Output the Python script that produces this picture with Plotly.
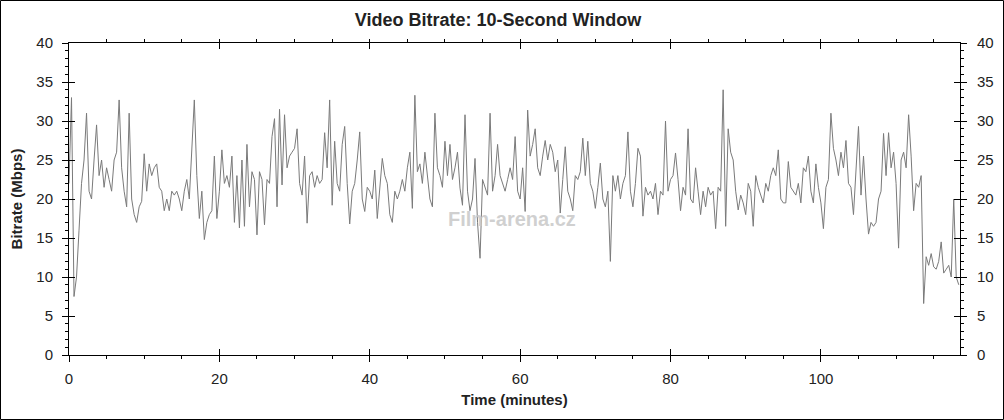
import plotly.graph_objects as go

seg_00_14 = [22, 33, 7.5, 10, 16, 22, 25, 31, 21, 20, 25, 29.5, 23, 25, 21.5, 24, 22.5, 21, 25, 26,
             32.7, 24, 21, 19, 31, 20, 18, 17, 19, 19.7, 25.8, 21, 24.5, 23, 24, 24.5, 21.5, 21, 18.5, 20,
             18.5, 21, 20.5]
seg_14_29 = [21, 20, 18.5, 21, 22.5, 20, 27, 32.7, 23, 17.5, 21, 14.8, 17, 18, 18.5, 25.5, 17.5, 21, 26.3, 22,
             23, 21.5, 25.5, 17, 23, 16.3, 25, 16.5, 27, 19, 23.5, 22.5, 15.4, 23.5, 22.5, 16.7, 22.5, 22, 28, 30.3,
             19, 31.5, 21.8, 30.8]
seg_29_43 = [24, 25.5, 26, 26.5, 29, 22, 20.5, 25.5, 16.9, 23, 23.5, 21.5, 23, 22, 22.5, 28.5, 24, 32.7, 19.2, 27.4,
             22, 21, 27, 29.3, 22, 16.8, 21, 22, 25, 28.6, 20, 18.4, 21.5, 21, 20, 23.7, 17.5, 21, 25.2, 23,
             22, 18, 17, 21]
seg_44_58 = [20, 21, 22.5, 21, 24, 26, 18.8, 33.3, 23.5, 24.5, 22, 26, 22.5, 20, 19, 31, 24, 23, 21.5, 27.4,
             23, 27, 22.5, 24, 26, 21.4, 19.2, 30.8, 21, 18.5, 20, 25.2, 17, 12.4, 22.5, 21.5, 20.5, 31, 21, 23,
             27, 23, 22]
seg_58_72 = [21, 22.5, 24, 22.5, 28, 21, 20, 24, 18.4, 31.4, 25.5, 27, 29, 24, 23, 25.5, 27.5, 25, 27, 26,
             23.5, 25, 18.2, 22.5, 26.7, 21, 20, 18.5, 23, 22.5, 23.5, 27.8, 23, 27.4, 22, 21, 18.8, 21.5, 24.6, 20,
             19, 21, 12, 23]
seg_73_87 = [21, 23, 20, 22, 23, 28.6, 21, 19, 22, 26.5, 25.5, 17.8, 21.5, 20.5, 21, 20, 22, 18, 21, 20.5,
             30, 21, 22.5, 23, 25.9, 22.5, 18.5, 21.5, 20.5, 29, 20, 19.5, 24, 21, 18, 21, 19, 21.5, 20.5, 21,
             16.2, 21.5, 21, 34]
seg_87_102 = [16.5, 29, 26, 25, 21, 18.6, 20.5, 19.5, 18, 22, 21, 16.5, 23, 21.5, 20.5, 19.5, 22, 21, 23, 24,
              23, 26.3, 20, 19.5, 19.5, 24.8, 21.5, 21, 20.5, 22, 19.5, 24, 23.5, 25.5, 21, 19.5, 24.5, 21.5, 19.5, 16.2,
              21.5, 22.5, 31, 26.5]
seg_102_118 = [25, 23, 26, 24, 27.5, 22, 21.5, 18, 24, 29.3, 20.5, 25.5, 20, 15.5, 17, 16.5, 17, 20, 21, 28.4,
               23, 28.5, 24, 26, 22, 13.7, 25, 26, 24, 30.8, 25.5, 18.5, 22, 21.5, 23, 6.6, 12.6, 11.5, 13, 11.3,
               11, 12, 14.5, 10.5, 11, 11.5, 10, 20, 10, 9]

bitrate = (seg_00_14 + seg_14_29 + seg_29_43 + seg_44_58 + seg_58_72 +
           seg_73_87 + seg_87_102 + seg_102_118)
sample_step_min = 1 / 3
time_min = [i * sample_step_min for i in range(len(bitrate))]

x_range = [0, 118.5]
y_range = [0, 40]

FONT = "Liberation Sans, Arial, sans-serif"
TXT = "#222222"

fig = go.Figure()
fig.add_trace(go.Scatter(x=time_min, y=bitrate, mode="lines",
                         line=dict(color="#7a7a7a", width=1),
                         showlegend=False, hoverinfo="skip"))
# invisible helper traces for overlay axes
fig.add_trace(go.Scatter(x=[None], y=[None], xaxis="x2", yaxis="y2", showlegend=False, hoverinfo="skip"))
fig.add_trace(go.Scatter(x=[None], y=[None], xaxis="x", yaxis="y3", showlegend=False, hoverinfo="skip"))

common_x = dict(range=x_range, dtick=20, tick0=0, showgrid=False, zeroline=False, automargin=False,
                tickcolor="black", tickwidth=1, ticklen=6,
                minor=dict(dtick=5, ticklen=3, tickcolor="black", showgrid=False))
common_y = dict(range=y_range, dtick=5, tick0=0, showgrid=False, zeroline=False, automargin=False,
                tickcolor="black", tickwidth=1, ticklen=6,
                minor=dict(dtick=1, ticklen=3, tickcolor="black", showgrid=False))

fig.update_layout(
    width=1004, height=420,
    margin=dict(l=69, r=44, t=43, b=65, autoexpand=False),
    paper_bgcolor="white", plot_bgcolor="white",
    font=dict(family=FONT, color=TXT, size=15),
    title=dict(text="<b>Video Bitrate: 10-Second Window</b>", x=498 / 1004, xanchor="center",
               y=1 - 20 / 420, yanchor="middle", yref="container",
               font=dict(family=FONT, size=18, color=TXT)),
    xaxis=dict(**common_x, ticks="outside", showline=True, linecolor="black", linewidth=1,
               mirror=True, showticklabels=True, ticklabelstandoff=4,
               tickfont=dict(size=15, color=TXT),
               title=dict(text="<b>Time (minutes)</b>", standoff=8,
                          font=dict(size=15, color=TXT))),
    xaxis2=dict(**common_x, ticks="inside", overlaying="x", side="bottom", showline=False,
                mirror="ticks", showticklabels=False),
    yaxis=dict(**common_y, ticks="outside", showline=True, linecolor="black", linewidth=1,
               mirror="ticks", showticklabels=True, ticklabelstandoff=6,
               tickfont=dict(size=15, color=TXT),
               title=dict(text="<b>Bitrate (Mbps)</b>", standoff=10,
                          font=dict(size=15, color=TXT))),
    yaxis2=dict(**common_y, ticks="inside", overlaying="y", side="left", showline=False,
                mirror="ticks", showticklabels=False),
    yaxis3=dict(range=y_range, dtick=5, tick0=0, overlaying="y", side="right", showgrid=False,
                zeroline=False, ticks="", showline=False, showticklabels=True, automargin=False,
                ticklabelstandoff=16, tickfont=dict(size=15, color=TXT)),
)

# watermark
fig.add_annotation(text="<b>Film-arena.cz</b>", xref="paper", yref="paper",
                   x=(512 - 69) / 891, y=(355 - 219) / 312, xanchor="center", yanchor="middle",
                   showarrow=False, font=dict(family=FONT, size=20, color="rgba(200,200,200,0.85)"))

# outer border of the picture
fig.add_shape(type="rect", xref="paper", yref="paper",
              x0=(0.5 - 69) / 891, x1=(1003.5 - 69) / 891,
              y0=-(419.5 - 355) / 312, y1=(355 - 0.5) / 312,
              line=dict(color="black", width=1), fillcolor="rgba(0,0,0,0)", layer="above")

fig.write_html("out.html", config={"displayModeBar": False},
               post_script="document.body.style.margin='0';document.body.style.overflow='hidden';")
